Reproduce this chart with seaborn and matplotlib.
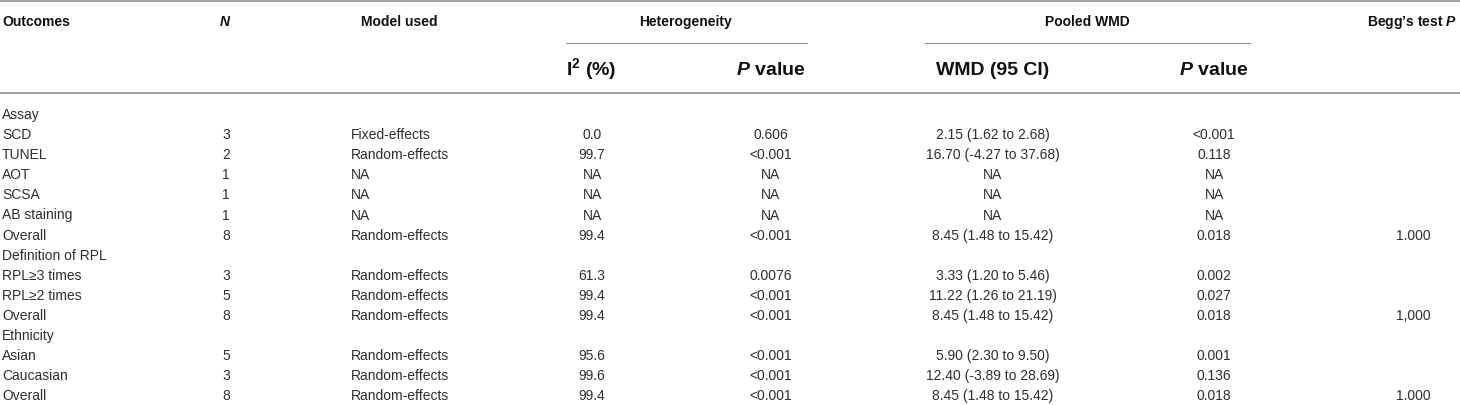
#!/usr/bin/env python3
import matplotlib
matplotlib.use('Agg')
import matplotlib.pyplot as plt
import seaborn as sns

outcomes = ['Assay', 'SCD', 'TUNEL', 'AOT', 'SCSA', 'AB staining', 'Overall',
            'Definition of RPL', 'RPL\u22653 times', 'RPL\u22652 times', 'Overall',
            'Ethnicity', 'Asian', 'Caucasian', 'Overall']
n_studies = ['', '3', '2', '1', '1', '1', '8', '', '3', '5', '8', '', '5', '3', '8']
model_used = ['', 'Fixed-effects', 'Random-effects', 'NA', 'NA', 'NA', 'Random-effects',
              '', 'Random-effects', 'Random-effects', 'Random-effects',
              '', 'Random-effects', 'Random-effects', 'Random-effects']
i2 = ['', '0.0', '99.7', 'NA', 'NA', 'NA', '99.4', '', '61.3', '99.4', '99.4',
      '', '95.6', '99.6', '99.4']
het_p = ['', '0.606', '<0.001', 'NA', 'NA', 'NA', '<0.001', '', '0.0076', '<0.001', '<0.001',
         '', '<0.001', '<0.001', '<0.001']
wmd = ['', '2.15 (1.62 to 2.68)', '16.70 (-4.27 to 37.68)', 'NA', 'NA', 'NA',
       '8.45 (1.48 to 15.42)', '', '3.33 (1.20 to 5.46)', '11.22 (1.26 to 21.19)',
       '8.45 (1.48 to 15.42)', '', '5.90 (2.30 to 9.50)', '12.40 (-3.89 to 28.69)',
       '8.45 (1.48 to 15.42)']
pooled_p = ['', '<0.001', '0.118', 'NA', 'NA', 'NA', '0.018', '', '0.002', '0.027', '0.018',
            '', '0.001', '0.136', '0.018']
begg_p = ['', '', '', '', '', '', '1.000', '', '', '', '1,000', '', '', '', '1.000']

sns.set_theme(style='white')
plt.rcParams['font.family'] = ['Liberation Sans', 'DejaVu Sans']
plt.rcParams['mathtext.fontset'] = 'custom'
plt.rcParams['mathtext.rm'] = 'Liberation Sans'
plt.rcParams['mathtext.it'] = 'Liberation Sans:italic:bold'
plt.rcParams['mathtext.bf'] = 'Liberation Sans:bold'

fig = plt.figure(figsize=(14.6, 4.05), dpi=100)
ax = fig.add_axes([0, 0, 1, 1])
ax.set_xlim(0, 1460)
ax.set_ylim(405, 0)
ax.axis('off')

body = dict(fontsize=10, color='#2e2e2e')
head = dict(fontsize=10, color='#111111', fontweight='bold', va='baseline')
head2 = dict(fontsize=14, color='#111111', fontweight='bold', va='baseline')

# rules
rule = '#8f8f8f'
ax.plot([0, 1460], [1, 1], color=rule, lw=1.2)
ax.plot([0, 1460], [93, 93], color=rule, lw=1.2)
ax.plot([566, 807], [43, 43], color=rule, lw=0.8)
ax.plot([925, 1250], [43, 43], color=rule, lw=0.8)

# header row 1
y1 = 26
ax.text(2, y1, 'Outcomes', ha='left', **head)
ax.text(225, y1, '$N$', ha='center', **head)
ax.text(399, y1, 'Model used', ha='center', **head)
ax.text(686, y1, 'Heterogeneity', ha='center', **head)
ax.text(1087, y1, 'Pooled WMD', ha='center', **head)
ax.text(1457, y1, "Begg\u2019s test $P$", ha='right', **head)

# header row 2
y2 = 75
ax.text(566, y2, 'I$^{\\mathbf{2}}$ (%)', ha='left', **head2)
ax.text(771, y2, '$P$ value', ha='center', **head2)
ax.text(993, y2, 'WMD (95 CI)', ha='center', **head2)
ax.text(1214, y2, '$P$ value', ha='center', **head2)

# body rows
row0, step = 114, 20.1
for i, name in enumerate(outcomes):
    y = row0 + step * i + 5
    ax.text(2, y, name, ha='left', va='baseline', **body)
    ax.text(226, y, n_studies[i], ha='center', va='baseline', **body)
    ax.text(351, y, model_used[i], ha='left', va='baseline', **body)
    ax.text(592, y, i2[i], ha='center', va='baseline', **body)
    ax.text(771, y, het_p[i], ha='center', va='baseline', **body)
    ax.text(993, y, wmd[i], ha='center', va='baseline', **body)
    ax.text(1214, y, pooled_p[i], ha='center', va='baseline', **body)
    ax.text(1413, y, begg_p[i], ha='center', va='baseline', **body)

fig.savefig('out.png', dpi=100, facecolor='white')
